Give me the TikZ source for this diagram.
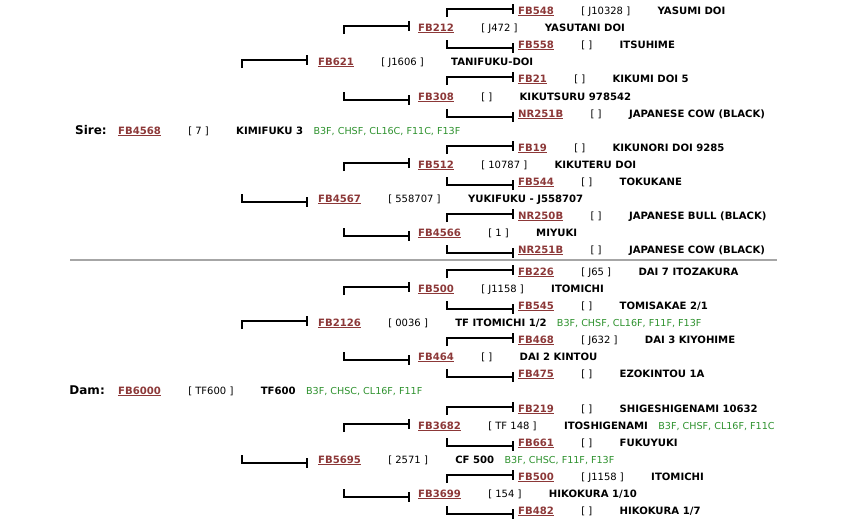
\documentclass[tikz,border=0pt]{standalone}
\usepackage{fontspec}
\setmainfont{DejaVu Sans}
\usetikzlibrary{positioning,arrows.meta}

\definecolor{idred}{RGB}{140,56,56}
\definecolor{traitgreen}{RGB}{45,145,45}

\tikzset{
  pid/.style={anchor=base west, inner sep=0pt, text=idred, font=\bfseries\fontsize{10.1}{12}\selectfont},
  preg/.style={inner sep=0pt, font=\fontsize{10}{12}\selectfont},
  pname/.style={inner sep=0pt, font=\bfseries\fontsize{10.1}{12}\selectfont},
  ptrait/.style={inner sep=0pt, text=traitgreen, font=\fontsize{9.6}{12}\selectfont},
  plabel/.style={inner sep=0pt, font=\bfseries\fontsize{12}{14}\selectfont},
  pedline/.style={line width=2pt, -{Bar[width=10pt]}},
  sepline/.style={line width=1.1pt, black!35},
}

\begin{document}
\begin{tikzpicture}[x=1pt,y=-1pt]
    \useasboundingbox (0,0) rectangle (846,520);

    % draw animals, one row each
    \foreach \n/\x/\fid/\reg/\nm in {
      1/518/FB548/{[ J10328 ]}/{YASUMI DOI},
      2/418/FB212/{[ J472 ]}/{YASUTANI DOI},
      3/518/FB558/{[ ]}/{ITSUHIME},
      4/318/FB621/{[ J1606 ]}/{TANIFUKU-DOI},
      5/518/FB21/{[ ]}/{KIKUMI DOI 5},
      6/418/FB308/{[ ]}/{KIKUTSURU 978542},
      7/518/NR251B/{[ ]}/{JAPANESE COW (BLACK)},
      8/118/FB4568/{[ 7 ]}/{KIMIFUKU 3},
      9/518/FB19/{[ ]}/{KIKUNORI DOI 9285},
      10/418/FB512/{[ 10787 ]}/{KIKUTERU DOI},
      11/518/FB544/{[ ]}/{TOKUKANE},
      12/318/FB4567/{[ 558707 ]}/{YUKIFUKU - J558707},
      13/518/NR250B/{[ ]}/{JAPANESE BULL (BLACK)},
      14/418/FB4566/{[ 1 ]}/{MIYUKI},
      15/518/NR251B/{[ ]}/{JAPANESE COW (BLACK)},
      16/518/FB226/{[ J65 ]}/{DAI 7 ITOZAKURA},
      17/418/FB500/{[ J1158 ]}/{ITOMICHI},
      18/518/FB545/{[ ]}/{TOMISAKAE 2/1},
      19/318/FB2126/{[ 0036 ]}/{TF ITOMICHI 1/2},
      20/518/FB468/{[ J632 ]}/{DAI 3 KIYOHIME},
      21/418/FB464/{[ ]}/{DAI 2 KINTOU},
      22/518/FB475/{[ ]}/{EZOKINTOU 1A},
      23/118/FB6000/{[ TF600 ]}/{TF600},
      24/518/FB219/{[ ]}/{SHIGESHIGENAMI 10632},
      25/418/FB3682/{[ TF 148 ]}/{ITOSHIGENAMI},
      26/518/FB661/{[ ]}/{FUKUYUKI},
      27/318/FB5695/{[ 2571 ]}/{CF 500},
      28/518/FB500/{[ J1158 ]}/{ITOMICHI},
      29/418/FB3699/{[ 154 ]}/{HIKOKURA 1/10},
      30/518/FB482/{[ ]}/{HIKOKURA 1/7}}{
      \pgfmathsetmacro{\yrow}{round(ifthenelse(\n<16, 14+17.1*(\n-1), 275+17.07*(\n-16)))}
      \node[pid] (id\n) at (\x,\yrow) {\underline{\fid}};
      \node[preg, base right=27pt of id\n] (rg\n) {\reg};
      \node[pname, base right=27pt of rg\n] (nm\n) {\nm};
    }

    % draw green trait codes
    \foreach \n/\tr in {8/{B3F, CHSF, CL16C, F11C, F13F}, 19/{B3F, CHSF, CL16F, F11F, F13F},
      23/{B3F, CHSC, CL16F, F11F}, 25/{B3F, CHSF, CL16F, F11C}, 27/{B3F, CHSC, F11F, F13F}}
    \node[ptrait, base right=10pt of nm\n] (tr\n) {\tr};

    % draw sire and dam labels
    \node[plabel, base left=11pt of id8] (sire) {Sire:};
    \node[plabel, base left=13pt of id23] (dam) {Dam:};

    % draw brackets to upper parents (stub hangs down)
    \foreach \n/\a/\b in {4/-76pt/-10pt, 19/-76pt/-10pt, 2/-74pt/-8pt, 10/-74pt/-8pt, 17/-74pt/-8pt, 25/-74pt/-8pt,
      1/-71pt/-4pt, 5/-71pt/-4pt, 9/-71pt/-4pt, 13/-71pt/-4pt, 16/-71pt/-4pt, 20/-71pt/-4pt, 24/-71pt/-4pt, 28/-71pt/-4pt}
    \draw[pedline] ([xshift=\a,yshift=-3pt]id\n.base west) |- ([xshift=\b,yshift=5pt]id\n.base west);

    % draw brackets to lower parents (stub stands up)
    \foreach \n/\a/\b in {12/-76pt/-10pt, 27/-76pt/-10pt, 6/-74pt/-8pt, 14/-74pt/-8pt, 21/-74pt/-8pt, 29/-74pt/-8pt,
      3/-71pt/-4pt, 7/-71pt/-4pt, 11/-71pt/-4pt, 15/-71pt/-4pt, 18/-71pt/-4pt, 22/-71pt/-4pt, 26/-71pt/-4pt, 30/-71pt/-4pt}
    \draw[pedline] ([xshift=\a,yshift=8pt]id\n.base west) |- ([xshift=\b,yshift=0pt]id\n.base west);

    % draw line between sire and dam halves
    \draw[sepline] (70,260) -- (777,260);
\end{tikzpicture}
\end{document}
